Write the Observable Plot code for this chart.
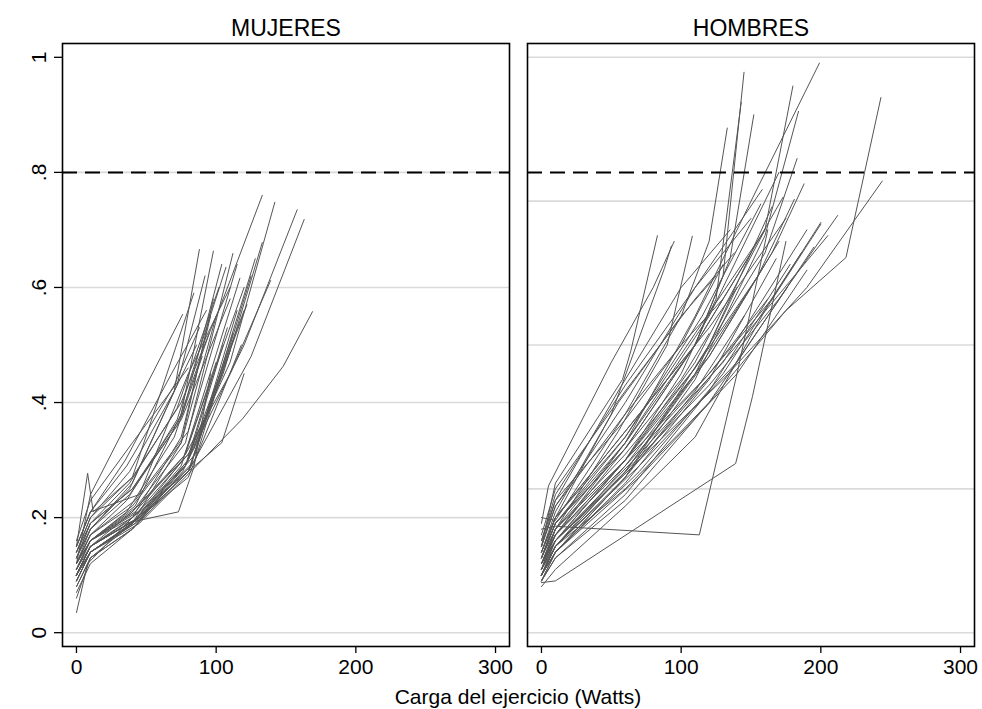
<!DOCTYPE html>
<html>
<head>
<meta charset="utf-8">
<script src="https://cdn.jsdelivr.net/npm/d3@7"></script>
<script src="https://cdn.jsdelivr.net/npm/@observablehq/plot@0.6"></script>
<style>
  html, body { margin: 0; padding: 0; background: #fff; }
  #chart svg { display: block; }
</style>
</head>
<body>
<div id="chart"></div>
<script>
// ---- Data ----
const panels = ["MUJERES", "HOMBRES"];
const xTicks = [0, 100, 200, 300];
const yTicks = [0, 0.2, 0.4, 0.6, 0.8, 1];
const gridMujeres = [0, 0.2, 0.4, 0.6, 0.8];
const gridHombres = [0, 0.25, 0.5, 0.75, 1];
const refLine = 0.8;
const xTitle = "Carga del ejercicio (Watts)";

// each entry: one subject, points [watts, value]
const mujeres = [
  [[0,.12],[10,.24],[76,.553]],
  [[0,.15],[8,.277],[12,.21],[40,.27],[84,.59]],
  [[0,.13],[10,.18],[38,.25],[70,.42],[88,.666]],
  [[0,.11],[10,.16],[42,.22],[75,.38],[98,.663]],
  [[0,.10],[10,.15],[40,.21],[78,.33],[112,.659]],
  [[0,.12],[10,.17],[36,.23],[72,.37],[107,.635]],
  [[0,.09],[10,.14],[45,.20],[80,.30],[105,.45],[133,.678]],
  [[0,.10],[10,.14],[40,.19],[75,.29],[117,.616]],
  [[0,.14],[10,.20],[40,.27],[75,.40],[105,.58],[133,.76]],
  [[0,.11],[10,.16],[44,.21],[80,.31],[110,.47],[142,.748]],
  [[0,.08],[10,.13],[40,.18],[76,.28],[120,.50],[158,.735]],
  [[0,.10],[10,.14],[42,.19],[80,.28],[125,.48],[163,.718]],
  [[0,.09],[10,.14],[45,.19],[90,.30],[119,.372],[148,.463],[169,.558]],
  [[0,.12],[10,.16],[40,.21],[78,.31],[110,.45],[139,.612]],
  [[0,.13],[10,.18],[38,.24],[72,.36],[95,.52]],
  [[0,.12],[10,.17],[40,.22],[75,.33],[100,.55]],
  [[0,.10],[10,.15],[44,.20],[80,.30],[105,.50]],
  [[0,.11],[10,.16],[36,.21],[70,.34],[90,.48]],
  [[0,.14],[10,.19],[40,.25],[75,.37],[110,.58]],
  [[0,.10],[10,.15],[45,.20],[82,.29],[115,.56]],
  [[0,.09],[10,.14],[40,.19],[76,.30],[120,.60]],
  [[0,.13],[10,.19],[38,.26],[72,.39],[102,.60]],
  [[0,.15],[10,.21],[35,.30],[68,.45],[93,.56]],
  [[0,.07],[10,.12],[40,.18],[78,.29],[108,.53]],
  [[0,.11],[10,.15],[45,.20],[85,.30],[125,.62]],
  [[0,.10],[10,.14],[40,.19],[80,.27],[118,.50]],
  [[0,.14],[10,.20],[38,.28],[70,.42],[86,.50]],
  [[0,.10],[10,.15],[35,.19],[73,.21],[84,.287],[96,.45]],
  [[0,.12],[10,.16],[42,.21],[78,.31],[100,.47]],
  [[0,.08],[10,.13],[40,.18],[80,.28],[112,.52]],
  [[0,.11],[10,.16],[44,.22],[84,.32],[122,.57]],
  [[0,.16],[10,.23],[40,.33],[80,.46]],
  [[0,.12],[10,.18],[40,.26],[72,.43],[92,.62]],
  [[0,.13],[10,.19],[40,.25],[76,.38],[104,.64]],
  [[0,.12],[10,.17],[42,.23],[80,.35],[115,.64]],
  [[0,.06],[10,.13],[40,.19],[75,.33],[98,.58]],
  [[0,.10],[10,.15],[45,.20],[85,.31],[128,.65]],
  [[0,.11],[10,.16],[40,.20],[78,.29],[120,.56]],
  [[0,.15],[10,.21],[36,.29],[70,.43],[88,.53]],
  [[0,.09],[10,.14],[42,.19],[80,.28],[110,.49]],
  [[0,.035],[8,.12],[40,.20],[75,.34],[96,.55]],
  [[0,.15],[10,.21],[45,.24],[80,.45],[110,.60]],
  [[0,.10],[10,.15],[40,.20],[75,.27],[104,.33],[120,.45]]
];

const hombres = [
  [[0,.12],[10,.17],[60,.33],[110,.55],[150,.75],[199,.99]],
  [[0,.14],[10,.20],[60,.35],[110,.50],[130,.62],[145,.974]],
  [[0,.10],[10,.16],[60,.30],[100,.45],[125,.58],[143,.922]],
  [[0,.13],[10,.19],[60,.32],[110,.50],[135,.65],[152,.90]],
  [[0,.15],[10,.22],[60,.38],[100,.55],[120,.68],[133,.877]],
  [[0,.11],[10,.16],[60,.30],[110,.47],[160,.70],[180,.95]],
  [[0,.09],[10,.14],[60,.27],[110,.44],[160,.69],[184,.906]],
  [[0,.12],[10,.18],[60,.31],[110,.46],[160,.66],[183,.824]],
  [[0,.10],[10,.15],[60,.28],[120,.48],[165,.66],[188,.78]],
  [[0,.10],[10,.15],[60,.25],[120,.40],[175,.56],[218,.652],[243,.93]],
  [[0,.12],[10,.16],[70,.30],[130,.44],[190,.60],[244,.785]],
  [[0,.11],[10,.16],[60,.28],[120,.43],[170,.58],[212,.725]],
  [[0,.13],[10,.18],[60,.30],[120,.45],[165,.58],[200,.713]],
  [[0,.15],[10,.26],[58,.44],[64,.49],[83,.69]],
  [[0,.13],[10,.20],[50,.38],[88,.633],[93,.672]],
  [[0,.11],[10,.18],[55,.35],[90,.50],[108,.689]],
  [[0,.12],[10,.17],[60,.32],[110,.50],[150,.66],[173,.757]],
  [[0,.10],[10,.15],[60,.29],[110,.45],[155,.62],[181,.753]],
  [[0,.14],[10,.20],[60,.34],[110,.52],[160,.70]],
  [[0,.09],[10,.14],[60,.27],[120,.50],[165,.74]],
  [[0,.11],[10,.17],[60,.30],[120,.48],[170,.68]],
  [[0,.13],[10,.19],[60,.33],[110,.50],[150,.66]],
  [[0,.12],[10,.17],[60,.30],[110,.46],[155,.62]],
  [[0,.10],[10,.15],[60,.28],[110,.45],[140,.60]],
  [[0,.14],[10,.20],[60,.35],[120,.53],[175,.72]],
  [[0,.10],[10,.14],[60,.26],[120,.44],[168,.65]],
  [[0,.11],[10,.16],[70,.31],[130,.47],[190,.70]],
  [[0,.09],[10,.13],[60,.24],[120,.42],[178,.64]],
  [[0,.12],[10,.17],[60,.29],[120,.45],[162,.58]],
  [[0,.10],[10,.15],[60,.27],[110,.42],[145,.55]],
  [[0,.16],[10,.23],[60,.37],[100,.50],[130,.58]],
  [[0,.13],[10,.19],[60,.32],[100,.44],[120,.52]],
  [[0,.15],[10,.22],[60,.40],[110,.60],[158,.77]],
  [[0,.12],[10,.18],[60,.33],[120,.55],[170,.80]],
  [[0,.17],[10,.25],[60,.42],[110,.58],[138,.66]],
  [[0,.11],[10,.15],[70,.29],[140,.47],[195,.67]],
  [[0,.09],[10,.13],[60,.23],[120,.40],[176,.60]],
  [[0,.10],[10,.14],[70,.28],[130,.45],[186,.66]],
  [[0,.16],[10,.24],[60,.43],[110,.60],[150,.72]],
  [[0,.14],[10,.21],[55,.40],[100,.55],[125,.62]],
  [[0,.15],[10,.23],[55,.42],[100,.60],[135,.70]],
  [[0,.12],[10,.16],[70,.30],[140,.50],[205,.69]],
  [[0,.13],[10,.19],[60,.34],[115,.55],[157,.745]],
  [[0,.10],[10,.14],[70,.27],[140,.45],[190,.63]],
  [[0,.18],[10,.185],[113,.17],[140,.45],[162,.70]],
  [[0,.087],[10,.09],[139,.294],[151,.41],[175,.68]],
  [[0,.20],[10,.195],[60,.38],[100,.50],[130,.64]],
  [[0,.08],[10,.11],[60,.22],[110,.34],[160,.56],[200,.71]],
  [[0,.19],[5,.255],[50,.47],[80,.60],[95,.68]]
];

// ---- Build tables for Plot ----
const rows = [];
[[panels[0], mujeres], [panels[1], hombres]].forEach(([panel, subjects]) => {
  subjects.forEach((pts, i) => {
    pts.forEach(([x, y]) => rows.push({panel, id: panel + i, x, y}));
  });
});
const gridRows = [
  ...gridMujeres.map(y => ({panel: panels[0], y})),
  ...gridHombres.map(y => ({panel: panels[1], y}))
];
const refRows = panels.map(panel => ({panel, y: refLine}));

const fmtY = d => d === 0 ? "0" : d === 1 ? "1" : String(d).replace(/^0\./, ".");

const W = 982, H = 709;
const mL = 61, mR = 7, mT = 43, mB = 63;

const chart = Plot.plot({
  width: W,
  height: H,
  marginLeft: mL,
  marginRight: mR,
  marginTop: mT,
  marginBottom: mB,
  style: {fontFamily: "'Liberation Sans', Arial, Helvetica, sans-serif", background: "#fff", color: "#000"},
  fx: {domain: panels, paddingInner: 0.0386, paddingOuter: 0, label: null},
  x: {domain: [-10, 310]},
  y: {domain: [-0.024, 1.024]},
  marks: [
    Plot.ruleY(gridRows, {y: "y", fx: "panel", stroke: "#dadada", strokeWidth: 1.6}),
    Plot.line(rows, {x: "x", y: "y", z: "id", fx: "panel", stroke: "#555", strokeWidth: 1}),
    Plot.ruleY(refRows, {y: "y", fx: "panel", stroke: "#000", strokeWidth: 2, strokeDasharray: "15,8"}),
    Plot.frame({stroke: "#000", strokeWidth: 1.6}),
    Plot.axisFx({anchor: "top", tickSize: 0, tickPadding: 8, fontSize: 23, label: null}),
    Plot.axisX({ticks: xTicks, tickSize: 7, tickPadding: 6, fontSize: 21, label: null, tickFormat: d => String(d), strokeWidth: 1.3}),
    Plot.axisY({ticks: yTicks, tickSize: 8, tickPadding: 9, tickRotate: -90, textAnchor: "middle", lineAnchor: "bottom", fontSize: 21, label: null, tickFormat: fmtY, strokeWidth: 1.3})
  ]
});

const svg = d3.select(chart);
svg.append("text")
  .attr("x", (mL + W - mR) / 2)
  .attr("y", H - 5)
  .attr("text-anchor", "middle")
  .attr("font-size", 21)
  .attr("fill", "#000")
  .text(xTitle);

document.getElementById("chart").appendChild(chart);
</script>
</body>
</html>
